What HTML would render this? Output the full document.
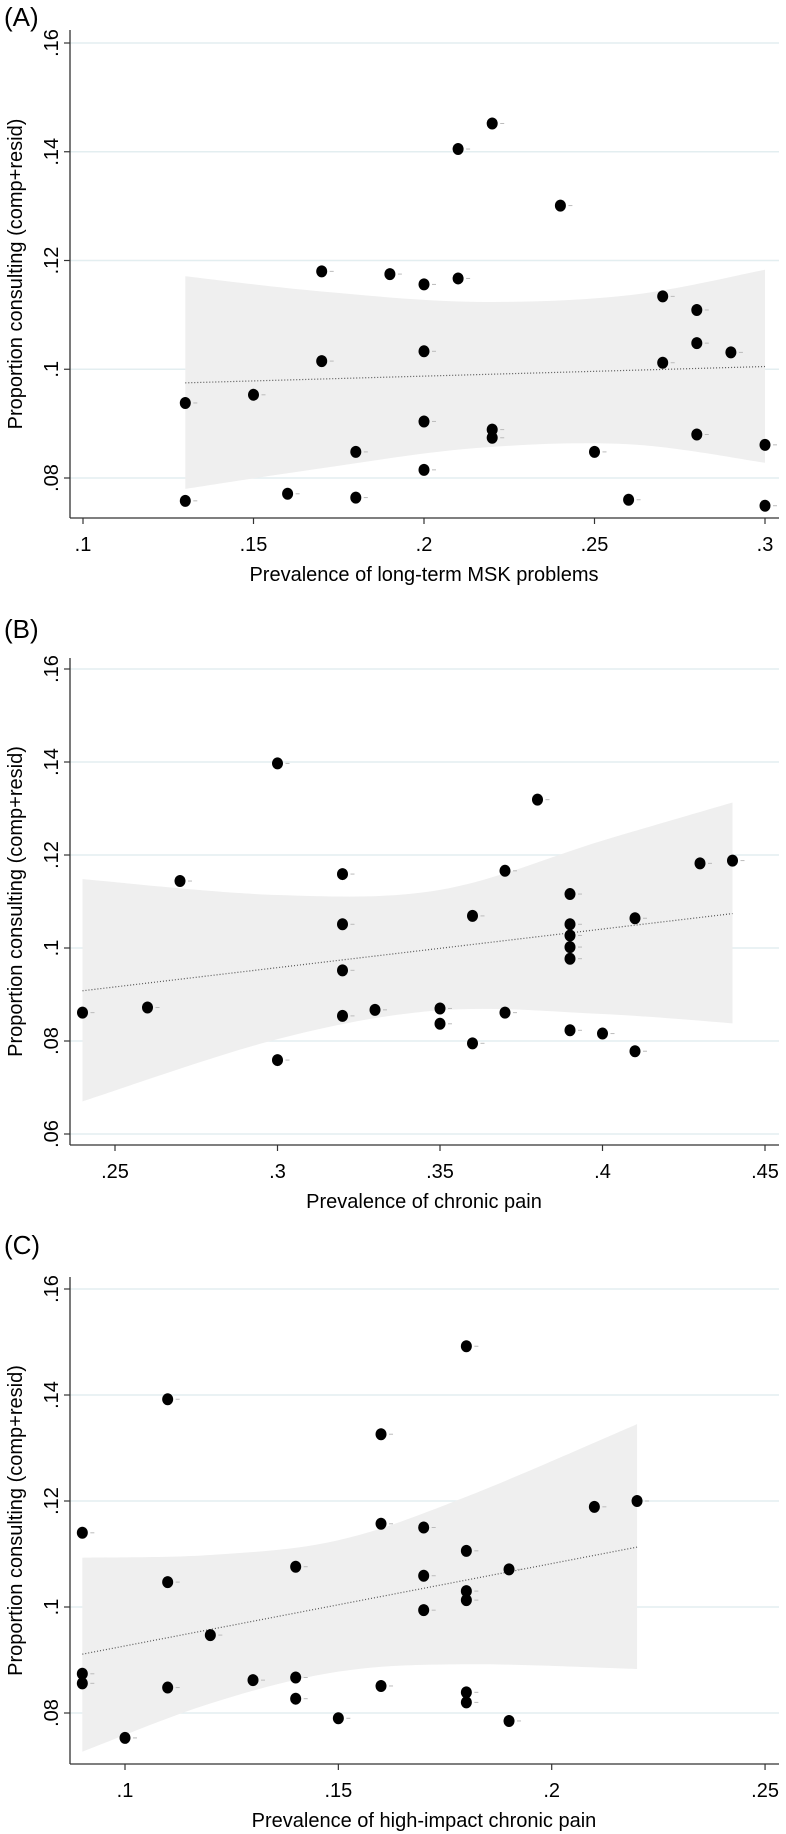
<!DOCTYPE html>
<html><head><meta charset="utf-8">
<style>
html,body{margin:0;padding:0;background:#fff;}
svg{display:block;font-family:"Liberation Sans",Arial,sans-serif;}
</style></head>
<body>
<svg id="fig" width="786" height="1834" viewBox="0 0 786 1834" xmlns="http://www.w3.org/2000/svg"></svg>
<script>
// ---------- Panel A data ----------
const aX = [.22,.21,.24,.17,.19,.20,.21,.27,.28,.17,.20,.27,.28,.29,.13,.13,.15,.16,.18,.18,.20,.20,.22,.22,.25,.26,.28,.30,.30];
const aY = [.1452,.1405,.1301,.1180,.1175,.1156,.1167,.1134,.1109,.1015,.1033,.1012,.1048,.1031,.0938,.0758,.0953,.0771,.0848,.0764,.0904,.0815,.0889,.0874,.0848,.0760,.0880,.0861,.0749];
const aBandX = [.13,.17,.215,.26,.30];
const aBandUp = [.1171,.1143,.1124,.1136,.1183];
const aBandLo = [.0780,.0818,.0855,.0862,.0828];
const aFitX = [.13,.30];
const aFitY = [.0975,.1005];
const aXTicks = [.1,.15,.2,.25,.3];
const aXTickLabels = [".1",".15",".2",".25",".3"];
const aYTicks = [.08,.1,.12,.14,.16];
const aYTickLabels = [".08",".1",".12",".14",".16"];

// ---------- Panel B data ----------
const bX = [.30,.38,.27,.32,.37,.39,.43,.44,.36,.32,.39,.39,.39,.39,.41,.32,.24,.26,.32,.33,.35,.35,.37,.39,.40,.36,.41,.30];
const bY = [.1397,.1319,.1144,.1159,.1166,.1116,.1182,.1188,.1069,.1051,.1051,.1027,.1002,.0977,.1064,.0952,.0861,.0872,.0854,.0867,.0870,.0837,.0861,.0823,.0816,.0795,.0778,.0759];
const bBandX = [.24,.30,.35,.40,.44];
const bBandUp = [.1148,.1114,.1125,.1231,.1313];
const bBandLo = [.0670,.0804,.0866,.0858,.0838];
const bFitX = [.24,.44];
const bFitY = [.0908,.1074];
const bXTicks = [.25,.3,.35,.4,.45];
const bXTickLabels = [".25",".3",".35",".4",".45"];
const bYTicks = [.06,.08,.1,.12,.14,.16];
const bYTickLabels = [".06",".08",".1",".12",".14",".16"];

// ---------- Panel C data ----------
const cX = [.18,.11,.16,.09,.16,.17,.18,.21,.22,.14,.11,.17,.19,.18,.18,.17,.09,.09,.10,.11,.12,.13,.14,.14,.15,.16,.18,.18,.19];
const cY = [.1492,.1392,.1326,.1140,.1157,.1150,.1106,.1189,.1200,.1076,.1047,.1059,.1071,.1030,.1013,.0994,.0874,.0856,.0753,.0848,.0947,.0862,.0867,.0827,.0790,.0851,.0839,.0820,.0785];
const cBandX = [.09,.12,.15,.18,.22];
const cBandUp = [.1093,.1098,.1126,.1208,.1345];
const cBandLo = [.0727,.0818,.0878,.0892,.0883];
const cFitX = [.09,.22];
const cFitY = [.0911,.1113];
const cXTicks = [.1,.15,.2,.25];
const cXTickLabels = [".1",".15",".2",".25"];
const cYTicks = [.08,.1,.12,.14,.16];
const cYTickLabels = [".08",".1",".12",".14",".16"];

const NS = "http://www.w3.org/2000/svg";
const svg = document.getElementById('fig');
function mk(tag, attrs, parent){
  const e = document.createElementNS(NS, tag);
  for (const k in attrs) e.setAttribute(k, attrs[k]);
  (parent||svg).appendChild(e);
  return e;
}
function smoothPath(pts){
  let d = "M"+pts[0][0]+","+pts[0][1];
  for (let i=0;i<pts.length-1;i++){
    const p0=pts[Math.max(0,i-1)], p1=pts[i], p2=pts[i+1], p3=pts[Math.min(pts.length-1,i+2)];
    const c1=[p1[0]+(p2[0]-p0[0])/6, p1[1]+(p2[1]-p0[1])/6];
    const c2=[p2[0]-(p3[0]-p1[0])/6, p2[1]-(p3[1]-p1[1])/6];
    d += " C"+c1[0]+","+c1[1]+" "+c2[0]+","+c2[1]+" "+p2[0]+","+p2[1];
  }
  return d;
}

function panel(cfg){
  const g = mk('g', {});
  
  
  const xs = v => cfg.x0 + (v - cfg.xv0) * cfg.xk;
  const ys = v => cfg.y0 - (v - cfg.yv0) * cfg.yk;
  const L = 70, R = 779;

  const lab = mk('text', {x:4, y:cfg.labelY, 'font-size':26, fill:'#000'}, g);
  lab.textContent = cfg.label;
  
  

  cfg.yTicks.forEach((t,i)=>{
    const gl = mk('line', {x1:L, x2:R, y1:ys(t), y2:ys(t), stroke:'#e3eef0', 'stroke-width':1.5}, g);
    
    
  });

  const up = cfg.bandX.map((x,i)=>[xs(x), ys(cfg.bandUp[i])]);
  const lo = cfg.bandX.map((x,i)=>[xs(x), ys(cfg.bandLo[i])]).reverse();
  let d = smoothPath(up);
  d += " L"+lo[0][0]+","+lo[0][1] + smoothPath(lo).replace(/^M[^C]*/,' ') + " Z";
  const band = mk('path', {d:d, fill:'#efefef', stroke:'none'}, g);
  
  

  const fit = mk('line', {x1:xs(cfg.fitX[0]), y1:ys(cfg.fitY[0]), x2:xs(cfg.fitX[1]), y2:ys(cfg.fitY[1]), stroke:'#555', 'stroke-width':1.2, 'stroke-dasharray':'1 2'}, g);
  
  

  cfg.px.forEach((x,i)=>{
    const cx = xs(x), cy = ys(cfg.py[i]);
    const tk = mk('line', {x1:cx+8, x2:cx+12, y1:cy, y2:cy, stroke:'#bbb', 'stroke-width':1}, g);
    
    
    const c = mk('ellipse', {cx:cx, cy:cy, rx:5.5, ry:6, fill:'#000'}, g);
    
    
  });

  const yax = mk('line', {x1:L, x2:L, y1:cfg.axTop, y2:cfg.axBottom, stroke:'#333', 'stroke-width':1.3}, g);
  
  
  const xax = mk('line', {x1:L, x2:R, y1:cfg.axBottom, y2:cfg.axBottom, stroke:'#333', 'stroke-width':1.3}, g);
  
  

  cfg.yTicks.forEach((t,i)=>{
    const y = ys(t);
    mk('line', {x1:L-6, x2:L, y1:y, y2:y, stroke:'#333', 'stroke-width':1.2}, g);
    const tx = mk('text', {x:0, y:0, 'font-size':20, 'text-anchor':'middle', transform:'translate(58,'+y+') rotate(-90)', fill:'#000'}, g);
    tx.textContent = cfg.yTickLabels[i];
    
    
  });
  cfg.xTicks.forEach((t,i)=>{
    const x = xs(t);
    mk('line', {x1:x, x2:x, y1:cfg.axBottom, y2:cfg.axBottom+6, stroke:'#333', 'stroke-width':1.2}, g);
    const tx = mk('text', {x:x, y:cfg.axBottom+33, 'font-size':20, 'text-anchor':'middle', fill:'#000'}, g);
    tx.textContent = cfg.xTickLabels[i];
    
    
  });
  const xt = mk('text', {x:cfg.xTitleX, y:cfg.axBottom+63, 'font-size':20, 'text-anchor':'middle', fill:'#000'}, g);
  xt.textContent = cfg.xTitle;
  
  
  const ymid = (cfg.axTop + cfg.axBottom)/2;
  const yt = mk('text', {x:0, y:0, 'font-size':20, 'text-anchor':'middle', transform:'translate(22,'+ymid+') rotate(-90)', fill:'#000'}, g);
  yt.textContent = 'Proportion consulting (comp+resid)';
  
  
}

panel({name:'panel-a', label:'(A)', labelY:26, x0:83, xv0:.1, xk:3410, y0:478, yv0:.08, yk:5437.5,
  axTop:30, axBottom:518, px:aX, py:aY, bandX:aBandX, bandUp:aBandUp, bandLo:aBandLo, fitX:aFitX, fitY:aFitY,
  xTicks:aXTicks, xTickLabels:aXTickLabels, yTicks:aYTicks, yTickLabels:aYTickLabels,
  xTitle:'Prevalence of long-term MSK problems', xTitleX:424});
panel({name:'panel-b', label:'(B)', labelY:638, x0:115, xv0:.25, xk:3250, y0:1041, yv0:.08, yk:4650,
  axTop:658, axBottom:1145, px:bX, py:bY, bandX:bBandX, bandUp:bBandUp, bandLo:bBandLo, fitX:bFitX, fitY:bFitY,
  xTicks:bXTicks, xTickLabels:bXTickLabels, yTicks:bYTicks, yTickLabels:bYTickLabels,
  xTitle:'Prevalence of chronic pain', xTitleX:424});
panel({name:'panel-c', label:'(C)', labelY:1254, x0:125, xv0:.1, xk:4267, y0:1713, yv0:.08, yk:5300,
  axTop:1277, axBottom:1764, px:cX, py:cY, bandX:cBandX, bandUp:cBandUp, bandLo:cBandLo, fitX:cFitX, fitY:cFitY,
  xTicks:cXTicks, xTickLabels:cXTickLabels, yTicks:cYTicks, yTickLabels:cYTickLabels,
  xTitle:'Prevalence of high-impact chronic pain', xTitleX:424});
</script>
</body></html>
